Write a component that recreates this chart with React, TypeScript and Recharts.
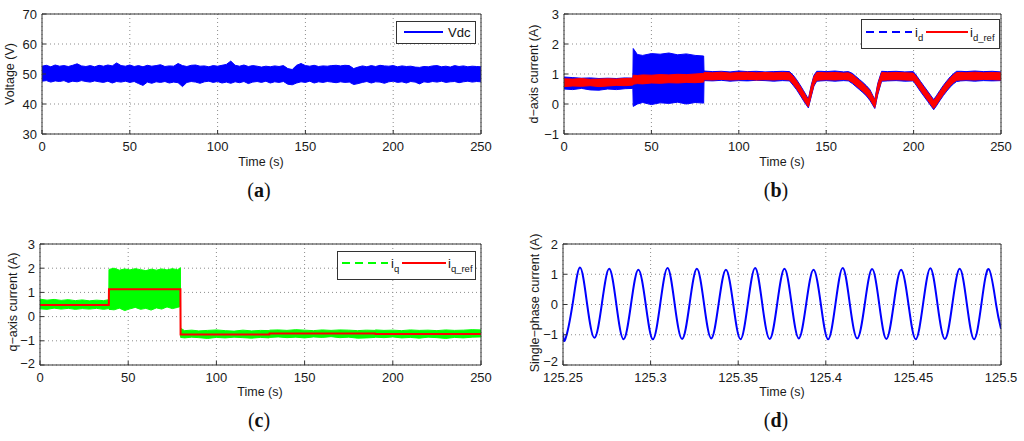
import React from "react";
import { ComposedChart, Area, Line, XAxis, YAxis, CartesianGrid } from "recharts";

// ---- (a) DC-link voltage: noise envelope ----
const T_A = [0, 2.5, 5, 7.5, 10, 12.5, 15, 17.5, 20, 22.5, 25, 27.5, 30, 32.5, 35, 37.5, 40, 42.5, 45, 47.5, 50, 52.5, 55, 57.5, 60, 62.5, 65, 67.5, 70, 72.5, 75, 77.5, 80, 82.5, 85, 87.5, 90, 92.5, 95, 97.5, 100, 102.5, 105, 107.5, 110, 112.5, 115, 117.5, 120, 122.5, 125, 127.5, 130, 132.5, 135, 137.5, 140, 142.5, 145, 147.5, 150, 152.5, 155, 157.5, 160, 162.5, 165, 167.5, 170, 172.5, 175, 177.5, 180, 182.5, 185, 187.5, 190, 192.5, 195, 197.5, 200, 202.5, 205, 207.5, 210, 212.5, 215, 217.5, 220, 222.5, 225, 227.5, 230, 232.5, 235, 237.5, 240, 242.5, 245, 247.5, 250];
const VDC_HI = [
  52.6, 52.9, 52.4, 53.0, 52.6, 52.8, 52.5, 52.9, 53.4, 52.7,
  52.5, 52.8, 52.4, 52.9, 52.6, 53.0, 52.7, 53.7, 52.8, 52.6,
  53.0, 52.5, 52.8, 52.4, 52.9, 52.6, 52.8, 53.1, 52.5, 52.7,
  52.6, 53.5, 52.8, 52.5, 52.9, 53.0, 52.6, 52.7, 52.4, 52.8,
  52.6, 52.9, 53.2, 54.3, 52.9, 52.6, 53.0, 52.5, 52.8, 52.6,
  52.3, 52.6, 52.4, 52.7, 52.5, 52.8, 51.8, 51.5, 52.9, 53.5,
  52.8, 52.6, 52.9, 52.5, 52.7, 52.6, 52.8, 52.9, 52.7, 52.9,
  52.8, 51.8, 52.3, 52.7, 52.4, 52.8, 52.5, 52.9, 52.7, 52.6,
  52.8, 52.4, 52.7, 52.5, 52.6, 52.3, 52.2, 52.5, 52.4, 52.7,
  52.8, 52.4, 52.6, 52.3, 52.8, 52.5, 52.7, 52.4, 52.6, 52.5, 52.4,
];
const VDC_LO = [
  47.6, 47.8, 47.3, 47.7, 47.5, 47.8, 47.2, 47.6, 47.4, 47.8,
  47.5, 47.3, 47.7, 47.4, 47.2, 47.6, 47.0, 47.5, 47.3, 47.6,
  47.2, 47.5, 46.8, 46.2, 47.3, 46.9, 47.4, 47.2, 47.5, 47.0,
  47.3, 47.1, 45.8, 47.2, 47.5, 47.3, 46.9, 47.4, 47.6, 47.2,
  47.5, 47.0, 47.3, 46.9, 47.4, 47.1, 47.5, 46.8, 47.3, 47.5,
  47.2, 47.6, 47.0, 47.4, 47.2, 47.5, 46.6, 46.4, 47.0, 47.4,
  47.2, 47.6, 47.0, 47.4, 47.2, 47.5, 47.3, 47.1, 47.4, 47.2,
  47.3, 46.5, 46.8, 47.2, 47.5, 47.0, 47.4, 47.3, 46.9, 47.4,
  47.6, 47.2, 47.4, 47.0, 47.5, 47.3, 46.7, 47.4, 47.2, 47.5,
  47.3, 47.6, 47.2, 47.4, 47.5, 47.1, 47.4, 47.6, 47.3, 47.5, 47.4,
];

// ---- (b) d-axis current ----
const T_B = [
  0, 5, 10, 15, 20, 25, 30, 35, 39.4,
  39.6, 42, 45, 50, 55, 60, 65, 70, 75, 79.9,
  80.1, 85, 90, 95, 100, 105, 110, 115, 120, 125, 129,
  131, 133, 135, 137, 139.8, 141.5, 143, 144.6,
  147, 150, 155, 160, 162.7,
  165, 167, 169, 171, 173, 175, 177.8, 179.5, 181.7,
  185, 190, 195, 199.8,
  202, 204, 206, 208, 210, 211.5, 213, 215, 217, 219, 221, 223, 224.6,
  227, 230, 235, 240, 245, 250,
];
const ID_LO = [
  0.5, 0.48, 0.52, 0.47, 0.46, 0.5, 0.48, 0.51, 0.52,
  -0.08, 0.0, 0.05, -0.02, 0.04, 0.02, 0.06, 0.0, 0.05, 0.03,
  0.78, 0.77, 0.79, 0.76, 0.78, 0.77, 0.79, 0.78, 0.76, 0.78, 0.77,
  0.63, 0.48, 0.3, 0.11, -0.13, 0.26, 0.6, 0.76,
  0.77, 0.78, 0.76, 0.78, 0.77,
  0.68, 0.58, 0.48, 0.38, 0.27, 0.12, -0.15, 0.31, 0.76,
  0.77, 0.78, 0.76, 0.77,
  0.58, 0.41, 0.25, 0.09, -0.07, -0.19, -0.07, 0.11, 0.28, 0.43, 0.57, 0.68, 0.75,
  0.77, 0.78, 0.76, 0.78, 0.77, 0.78,
];
const ID_HI = [
  0.9, 0.88, 0.86, 0.87, 0.85, 0.86, 0.85, 0.87, 0.86,
  1.85, 1.65, 1.62, 1.68, 1.66, 1.7, 1.64, 1.67, 1.62, 1.6,
  1.1, 1.08, 1.09, 1.07, 1.1, 1.08, 1.09, 1.07, 1.08, 1.09, 1.08,
  0.97, 0.82, 0.64, 0.45, 0.17, 0.64, 0.96, 1.09,
  1.09, 1.08, 1.1, 1.07, 1.08,
  1.02, 0.92, 0.82, 0.72, 0.61, 0.48, 0.15, 0.69, 1.09,
  1.08, 1.09, 1.07, 1.08,
  0.92, 0.75, 0.59, 0.43, 0.27, 0.15, 0.27, 0.45, 0.62, 0.77, 0.91, 1.02, 1.09,
  1.09, 1.08, 1.1, 1.08, 1.09, 1.07,
];
const IDREF_LO = [
  0.58, 0.6, 0.59, 0.61, 0.58, 0.6, 0.62, 0.61, 0.63,
  0.66, 0.68, 0.67, 0.7, 0.69, 0.71, 0.7, 0.72, 0.71, 0.73,
  0.81, 0.8, 0.82, 0.8, 0.81, 0.82, 0.8, 0.81, 0.8, 0.82, 0.8,
  0.67, 0.52, 0.34, 0.15, -0.1, 0.3, 0.64, 0.79,
  0.8, 0.81, 0.8, 0.82, 0.8,
  0.72, 0.62, 0.52, 0.42, 0.31, 0.16, -0.12, 0.35, 0.79,
  0.8, 0.81, 0.8, 0.79,
  0.62, 0.45, 0.29, 0.13, -0.03, -0.15, -0.03, 0.15, 0.32, 0.47, 0.61, 0.72, 0.79,
  0.8, 0.81, 0.8, 0.82, 0.81, 0.8,
];
const IDREF_HI = [
  0.84, 0.83, 0.85, 0.82, 0.83, 0.84, 0.83, 0.85, 0.86,
  0.96, 0.95, 0.97, 0.96, 0.98, 0.97, 0.99, 0.98, 1.0, 1.02,
  1.05, 1.04, 1.06, 1.03, 1.05, 1.06, 1.04, 1.05, 1.04, 1.05, 1.04,
  0.93, 0.78, 0.6, 0.41, 0.13, 0.6, 0.92, 1.05,
  1.05, 1.04, 1.05, 1.03, 1.04,
  0.98, 0.88, 0.78, 0.68, 0.57, 0.44, 0.12, 0.65, 1.05,
  1.04, 1.05, 1.04, 1.03,
  0.88, 0.71, 0.55, 0.39, 0.23, 0.11, 0.23, 0.41, 0.58, 0.73, 0.87, 0.98, 1.05,
  1.05, 1.04, 1.06, 1.04, 1.05, 1.04,
];

// ---- (c) q-axis current ----
const T_C = [
  0, 4, 8, 12, 16, 20, 24, 28, 32, 36, 39,
  39.1, 42, 45, 48, 51, 54, 57, 60, 63, 66, 69, 72, 75, 78, 79.6,
  79.7, 82, 86, 90, 95, 100, 105, 110, 115, 120, 125, 130,
  130.1, 135, 140, 145, 150, 155, 160, 165, 170, 175, 180, 185, 190,
  190.1, 195, 200, 205, 210, 215, 220, 225, 230, 235, 240, 245, 250,
];
const IQ_LO = [
  0.32, 0.3, 0.35, 0.31, 0.34, 0.3, 0.33, 0.31, 0.34, 0.3, 0.33,
  0.3, 0.28, 0.35, 0.25, 0.32, 0.38, 0.3, 0.34, 0.27, 0.36, 0.31, 0.4, 0.33, 0.38, 0.42,
  -0.86, -0.88, -0.85, -0.87, -0.9, -0.86, -0.88, -0.85, -0.87, -0.89, -0.86, -0.88,
  -0.86, -0.84, -0.87, -0.85, -0.88, -0.84, -0.86, -0.83, -0.87, -0.85, -0.89, -0.88, -0.86,
  -0.85, -0.87, -0.84, -0.88, -0.86, -0.89, -0.85, -0.87, -0.9, -0.86, -0.88, -0.85, -0.84,
];
const IQ_HI = [
  0.72, 0.68, 0.71, 0.67, 0.7, 0.66, 0.69, 0.65, 0.68, 0.66, 0.7,
  1.95, 2.0, 1.92, 1.97, 1.93, 1.98, 1.94, 1.9, 1.96, 1.92, 1.97, 1.93, 1.98, 1.94, 2.02,
  -0.48, -0.58, -0.56, -0.59, -0.57, -0.55, -0.58, -0.6, -0.56, -0.59, -0.57, -0.58,
  -0.56, -0.55, -0.57, -0.54, -0.56, -0.58, -0.55, -0.57, -0.55, -0.56, -0.58, -0.56, -0.57,
  -0.55, -0.57, -0.56, -0.58, -0.55, -0.57, -0.56, -0.58, -0.55, -0.57, -0.56, -0.54, -0.55,
];
const IQ_REF = [
  0.48, 0.48, 0.48, 0.48, 0.48, 0.48, 0.48, 0.48, 0.48, 0.48, 0.48,
  1.13, 1.13, 1.13, 1.13, 1.13, 1.13, 1.13, 1.13, 1.13, 1.13, 1.13, 1.13, 1.13, 1.13, 1.13,
  -0.74, -0.74, -0.74, -0.74, -0.74, -0.74, -0.74, -0.74, -0.74, -0.74, -0.74, -0.74,
  -0.7, -0.7, -0.7, -0.7, -0.7, -0.7, -0.7, -0.7, -0.7, -0.7, -0.7, -0.7, -0.7,
  -0.72, -0.72, -0.72, -0.72, -0.72, -0.72, -0.72, -0.72, -0.72, -0.72, -0.72, -0.72, -0.72,
];

// ---- (d) single-phase current: troughs, zero crossings and peaks ----
const T_D = [
  125.25, 125.2513, 125.2555, 125.2597, 125.2638,
  125.268, 125.2722, 125.2764, 125.2805,
  125.2846, 125.2888, 125.293, 125.2972,
  125.3013, 125.3055, 125.3097, 125.3138,
  125.318, 125.3222, 125.3264, 125.3305,
  125.3346, 125.3388, 125.343, 125.3472,
  125.3513, 125.3555, 125.3597, 125.3638,
  125.368, 125.3722, 125.3764, 125.3805,
  125.3846, 125.3888, 125.393, 125.3972,
  125.4013, 125.4055, 125.4097, 125.4138,
  125.418, 125.4222, 125.4264, 125.4305,
  125.4346, 125.4388, 125.443, 125.4472,
  125.4513, 125.4555, 125.4597, 125.4638,
  125.468, 125.4722, 125.4764, 125.4805,
  125.4846, 125.4888, 125.493, 125.4972, 125.5,
];
const I_PH = [
  -0.95, -1.15, 0.02, 1.22, 0.0,
  -1.1, 0.03, 1.18, -0.02,
  -1.15, 0.0, 1.15, 0.01,
  -1.15, 0.02, 1.21, -0.01,
  -1.14, 0.0, 1.18, 0.02,
  -1.12, 0.01, 1.15, 0.0,
  -1.15, 0.02, 1.21, -0.01,
  -1.14, 0.0, 1.18, 0.01,
  -1.12, 0.02, 1.15, 0.0,
  -1.15, 0.01, 1.21, -0.02,
  -1.12, 0.0, 1.17, 0.01,
  -1.14, 0.02, 1.15, 0.0,
  -1.15, 0.01, 1.2, -0.01,
  -1.14, 0.0, 1.18, 0.02,
  -1.15, 0.01, 1.17, 0.0, -0.8,
];

const TIME_TICKS = [0, 50, 100, 150, 200, 250];
const PHASE_TICKS = [125.25, 125.3, 125.35, 125.4, 125.45, 125.5];

const dataA = T_A.map((t, i) => ({ t, vdc: [VDC_LO[i], VDC_HI[i]] }));
const dataB = T_B.map((t, i) => ({
  t,
  id: [ID_LO[i], ID_HI[i]],
  ref: [IDREF_LO[i], IDREF_HI[i]],
}));
const dataC = T_C.map((t, i) => ({ t, iq: [IQ_LO[i], IQ_HI[i]], ref: IQ_REF[i] }));
const dataD = T_D.map((t, i) => ({ t, i: I_PH[i] }));

const FONT = "'Liberation Sans', Arial, Helvetica, sans-serif";
const tickStyle = { fontSize: 13, fill: "#1a1a1a", fontFamily: FONT };
const minus = (v: number) => String(v).replace("-", "\u2212");

// y tick label; the bottom one can be lifted a little so it clears the x labels
function makeYTick(bottom: number, lift: number) {
  return function YTick(props: any) {
    const { x, y, payload } = props;
    const v = payload.value;
    return (
      <text x={x} y={v === bottom ? y - lift : y} dy="0.355em" textAnchor="end" fontSize={13} fill="#1a1a1a" fontFamily={FONT}>
        {minus(v)}
      </text>
    );
  };
}

type PanelProps = {
  x0: number;
  x1: number;
  y0: number;
  y1: number;
  data: object[];
  xDomain: [number, number];
  xTicks: number[];
  yDomain: [number, number];
  yTicks: number[];
  lift?: number;
  children: React.ReactNode;
};

function Panel({ x0, x1, y0, y1, data, xDomain, xTicks, yDomain, yTicks, lift = 0, children }: PanelProps) {
  const margin = { top: y0 - 5, left: x0 - 40, right: 1024 - x1 - 5, bottom: 441 - y1 - 30 };
  const YTick = makeYTick(yDomain[0], lift);
  return (
    <div style={{ position: "absolute", left: 0, top: 0 }}>
      <ComposedChart width={1024} height={441} data={data} margin={margin}>
        <CartesianGrid stroke="#8c8c8c" strokeDasharray="1 3" />
        <XAxis
          dataKey="t"
          type="number"
          domain={xDomain}
          ticks={xTicks}
          interval={0}
          allowDataOverflow
          height={30}
          stroke="#333"
          tickSize={-4}
          tickMargin={12}
          tick={tickStyle}
        />
        <XAxis
          xAxisId="top"
          orientation="top"
          dataKey="t"
          type="number"
          domain={xDomain}
          ticks={xTicks}
          interval={0}
          allowDataOverflow
          height={5}
          stroke="#333"
          tickSize={-4}
          tick={false}
        />
        <YAxis
          type="number"
          domain={yDomain}
          ticks={yTicks}
          interval={0}
          allowDataOverflow
          width={40}
          stroke="#333"
          tickSize={-4}
          tickMargin={9}
          tick={<YTick />}
        />
        <YAxis
          yAxisId="right"
          orientation="right"
          type="number"
          domain={yDomain}
          ticks={yTicks}
          interval={0}
          allowDataOverflow
          width={5}
          stroke="#333"
          tickSize={-4}
          tick={false}
        />
        {children}
      </ComposedChart>
    </div>
  );
}

function Caption({ x, y, letter }: { x: number; y: number; letter: string }) {
  return (
    <text x={x} y={y} textAnchor="middle" dominantBaseline="central" fontSize={20} fontFamily="'Liberation Serif', 'Times New Roman', serif" fill="#111">
      (<tspan fontWeight="bold">{letter}</tspan>)
    </text>
  );
}

function YTitle({ x, y, text }: { x: number; y: number; text: string }) {
  return (
    <text x={x} y={y} transform={`rotate(-90 ${x} ${y})`} textAnchor="middle" dominantBaseline="central" fontSize={12.5} fill="#1a1a1a">
      {text}
    </text>
  );
}

function XTitle({ x, y }: { x: number; y: number }) {
  return (
    <text x={x} y={y} textAnchor="middle" dominantBaseline="central" fontSize={12.5} fill="#1a1a1a">
      Time (s)
    </text>
  );
}

export default function App() {
  return (
    <div style={{ position: "absolute", left: 0, top: 0, width: 1024, height: 441, background: "#fff", fontFamily: FONT }}>
      <Panel x0={42} x1={481} y0={14} y1={134} data={dataA} xDomain={[0, 250]} xTicks={TIME_TICKS} yDomain={[30, 70]} yTicks={[30, 40, 50, 60, 70]}>
        <Area dataKey="vdc" type="linear" stroke="#0000ff" strokeWidth={1} fill="#0000ff" fillOpacity={1} dot={false} activeDot={false} isAnimationActive={false} />
      </Panel>
      <Panel x0={564} x1={1001} y0={14} y1={134} data={dataB} xDomain={[0, 250]} xTicks={TIME_TICKS} yDomain={[-1, 3]} yTicks={[-1, 0, 1, 2, 3]}>
        <Area dataKey="id" type="linear" stroke="#0000ff" strokeWidth={1} fill="#0000ff" fillOpacity={1} dot={false} activeDot={false} isAnimationActive={false} />
        <Area dataKey="ref" type="linear" stroke="#ff0000" strokeWidth={1} fill="#ff0000" fillOpacity={1} dot={false} activeDot={false} isAnimationActive={false} />
      </Panel>
      <Panel x0={40} x1={481} y0={244} y1={365} data={dataC} xDomain={[0, 250]} xTicks={TIME_TICKS} yDomain={[-2, 3]} yTicks={[-2, -1, 0, 1, 2, 3]} lift={2}>
        <Area dataKey="iq" type="linear" stroke="#00ff00" strokeWidth={1} fill="#00ff00" fillOpacity={1} dot={false} activeDot={false} isAnimationActive={false} />
        <Line dataKey="ref" type="linear" stroke="#ff0000" strokeWidth={2} dot={false} activeDot={false} isAnimationActive={false} />
      </Panel>
      <Panel x0={563} x1={1001} y0={244} y1={365} data={dataD} xDomain={[125.25, 125.5]} xTicks={PHASE_TICKS} yDomain={[-2, 2]} yTicks={[-2, -1, 0, 1, 2]} lift={4}>
        <Line dataKey="i" type="natural" stroke="#0000ff" strokeWidth={2} dot={false} activeDot={false} isAnimationActive={false} />
      </Panel>

      <svg width={1024} height={441} style={{ position: "absolute", left: 0, top: 0, pointerEvents: "none" }} fontFamily={FONT}>
        {/* legend (a) */}
        <rect x={396.5} y={21.5} width={79} height={22} fill="#fff" stroke="#333" />
        <line x1={404} x2={443} y1={32} y2={32} stroke="#0000ff" strokeWidth={2} />
        <text x={448} y={37} fontSize={13} fill="#111">Vdc</text>

        {/* legend (b) */}
        <rect x={861.5} y={19.5} width={138} height={29} fill="#fff" stroke="#333" />
        <line x1={866} x2={912} y1={32} y2={32} stroke="#0000ff" strokeWidth={2} strokeDasharray="8 5" />
        <text x={915} y={37} fontSize={13} fill="#111">
          i<tspan fontSize={9.5} dy={4}>d</tspan>
        </text>
        <line x1={926} x2={968} y1={32} y2={32} stroke="#ff0000" strokeWidth={2} />
        <text x={970} y={37} fontSize={13} fill="#111">
          i<tspan fontSize={9.5} dy={4}>d_ref</tspan>
        </text>

        {/* legend (c) */}
        <rect x={337.5} y={251.5} width={138} height={28} fill="#fff" stroke="#333" />
        <line x1={342} x2={388} y1={263} y2={263} stroke="#00ff00" strokeWidth={2} strokeDasharray="8 5" />
        <text x={391} y={268} fontSize={13} fill="#111">
          i<tspan fontSize={9.5} dy={4}>q</tspan>
        </text>
        <line x1={402} x2={446} y1={263} y2={263} stroke="#ff0000" strokeWidth={2} />
        <text x={448} y={268} fontSize={13} fill="#111">
          i<tspan fontSize={9.5} dy={4}>q_ref</tspan>
        </text>

        <YTitle x={10} y={74} text="Voltage (V)" />
        <YTitle x={534} y={74} text={"d\u2212axis current (A)"} />
        <YTitle x={13} y={302} text={"q\u2212axis current (A)"} />
        <YTitle x={535} y={303} text={"Single\u2212phase current (A)"} />

        <XTitle x={261} y={162} />
        <XTitle x={782} y={162} />
        <XTitle x={260} y={392} />
        <XTitle x={782} y={392} />

        <Caption x={259} y={190} letter="a" />
        <Caption x={776} y={190} letter="b" />
        <Caption x={259} y={420} letter="c" />
        <Caption x={776} y={420} letter="d" />
      </svg>
    </div>
  );
}
